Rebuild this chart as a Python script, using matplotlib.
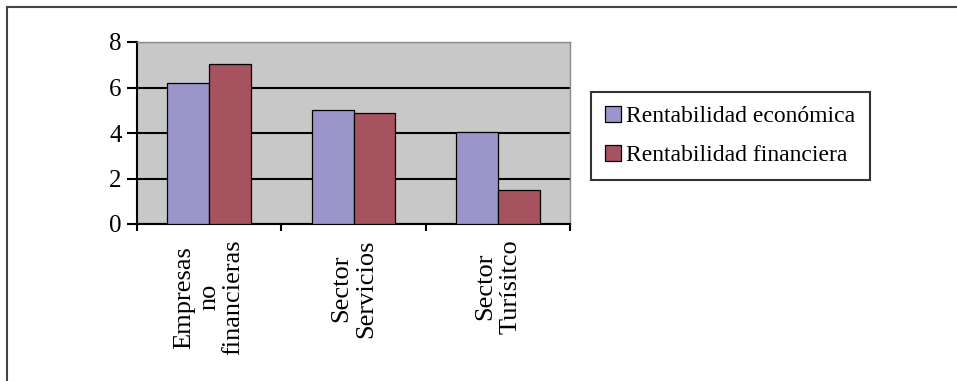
import numpy as np
import matplotlib
matplotlib.use("Agg")
import matplotlib.pyplot as plt
from matplotlib.lines import Line2D

categories = ["Empresas\nno\nfinancieras", "Sector\nServicios", "Sector\nTurísitco"]
rent_economica = [6.2, 5.0, 4.05]
rent_financiera = [7.05, 4.9, 1.5]
series_labels = ["Rentabilidad económica", "Rentabilidad financiera"]

plt.rcParams["font.family"] = ["Liberation Serif", "DejaVu Serif"]

fig = plt.figure(figsize=(9.57, 3.81), dpi=100)
ax = fig.add_axes([137/957, 1 - 224/381, 433/957, 182/381])

x = np.arange(len(categories))
w = 0.29
b1 = ax.bar(x - w/2, rent_economica, w, color="#9B96CA", edgecolor="black", linewidth=0.9, zorder=3, label=series_labels[0])
b2 = ax.bar(x + w/2, rent_financiera, w, color="#A6525F", edgecolor="black", linewidth=0.9, zorder=3, label=series_labels[1])

ax.set_facecolor("#C8C8C8")
ax.set_xlim(-0.5, len(categories) - 0.5)
ax.set_ylim(0, 8)
ax.set_yticks([0, 2, 4, 6, 8])
ax.yaxis.grid(True, color="black", linewidth=1.5, zorder=1)
ax.set_axisbelow(True)

for s in ["top", "right"]:
    ax.spines[s].set_color("#8a8a8a")
    ax.spines[s].set_linewidth(1.0)
for s in ["left", "bottom"]:
    ax.spines[s].set_color("black")
    ax.spines[s].set_linewidth(1.5)

# major ticks at category boundaries, labels on minor ticks at centers
ax.set_xticks(np.arange(len(categories) + 1) - 0.5)
ax.set_xticklabels([])
ax.set_xticks(x, minor=True)
ax.set_xticklabels(categories, minor=True, rotation=90, ha="center", va="top",
                   multialignment="center", linespacing=1.15, fontsize=19)
ax.tick_params(axis="x", which="minor", length=0, pad=11)
ax.tick_params(axis="x", which="major", direction="out", length=5, width=1.5)
ax.tick_params(axis="y", direction="out", length=7, width=1.5, labelsize=18, pad=4)

leg = fig.legend(handles=[b1, b2], loc="upper left",
                 bbox_to_anchor=(591/957, 1 - 92/381), fontsize=17,
                 frameon=True, fancybox=False, shadow=False,
                 handlelength=0.65, handleheight=0.65, handletextpad=0.25,
                 borderpad=0.6, labelspacing=0.75, borderaxespad=0)
leg.get_frame().set_edgecolor("black")
leg.get_frame().set_linewidth(1.5)

# cropped outer frame (only top and left edges visible)
fig.add_artist(Line2D([7/957, 7/957], [0, 1 - 7/381], transform=fig.transFigure, color="#444444", linewidth=1.5))
fig.add_artist(Line2D([7/957, 1], [1 - 7/381, 1 - 7/381], transform=fig.transFigure, color="#444444", linewidth=1.5))

fig.savefig("out.png", dpi=100)
